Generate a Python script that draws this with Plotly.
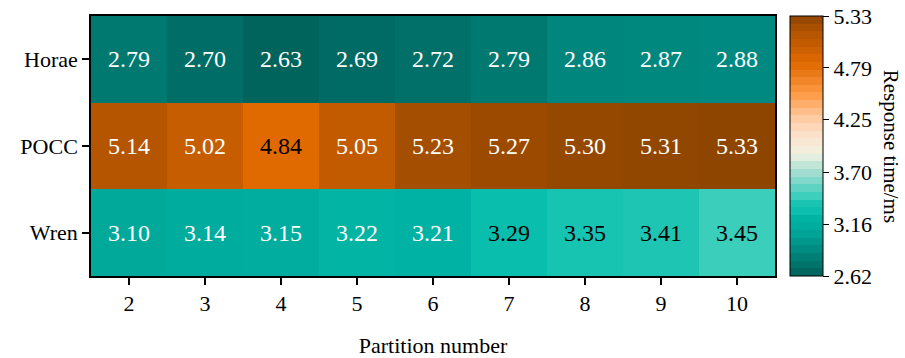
import plotly.graph_objects as go
import numpy as np

partitions = [2, 3, 4, 5, 6, 7, 8, 9, 10]
systems = ["Horae", "POCC", "Wren"]
horae = [2.79, 2.70, 2.63, 2.69, 2.72, 2.79, 2.86, 2.87, 2.88]
pocc = [5.14, 5.02, 4.84, 5.05, 5.23, 5.27, 5.30, 5.31, 5.33]
wren = [3.10, 3.14, 3.15, 3.22, 3.21, 3.29, 3.35, 3.41, 3.45]
cbar_ticks = [2.62, 3.16, 3.70, 4.25, 4.79, 5.33]
z = [horae, pocc, wren]
zmin, zmax = 2.62, 5.33

# colour anchors (position, hex)
anchors = [
    (0.00, "#00625B"), (0.03, "#006D66"), (0.063, "#007A71"), (0.09, "#00877E"),
    (0.177, "#00A99A"), (0.22, "#00B3A3"), (0.247, "#0ABEAE"), (0.269, "#17C3B1"),
    (0.292, "#1EC5B3"), (0.306, "#3ACEBB"), (0.40, "#A3DED1"), (0.47, "#F2F2E2"),
    (0.55, "#FCE0C8"), (0.62, "#FFC596"), (0.70, "#FF9A45"), (0.82, "#E06A00"),
    (0.89, "#C45C00"), (0.93, "#B65500"), (0.98, "#9A4A00"), (1.00, "#8E4500"),
]
def hex2rgb(h):
    h = h.lstrip('#'); return [int(h[i:i+2], 16) for i in (0, 2, 4)]
pos = np.array([a[0] for a in anchors])
cols = np.array([hex2rgb(a[1]) for a in anchors], dtype=float)
def col_at(t):
    return [float(np.interp(t, pos, cols[:, k])) for k in range(3)]
def rgb(c):
    return "rgb(%d,%d,%d)" % tuple(int(round(v)) for v in c)

smooth_scale = [[p, rgb(col_at(p))] for p in pos]
n = 34
stepped_scale = []
for i in range(n):
    s = rgb(col_at((i + 0.5) / n))
    stepped_scale.append([i / n, s]); stepped_scale.append([(i + 1) / n, s])

xcats = [str(p) for p in partitions]
fig = go.Figure()
# underlying trace only supplies the stepped colour bar
fig.add_trace(go.Heatmap(
    z=z, x=xcats, y=systems, zmin=zmin, zmax=zmax, colorscale=stepped_scale,
    colorbar=dict(
        x=1.022, xanchor="left", xpad=0, y=0.5, yanchor="middle",
        len=1.0, lenmode="fraction", ypad=0, thickness=33,
        outlinecolor="black", outlinewidth=1,
        tickvals=cbar_ticks, ticktext=["%.2f" % v for v in cbar_ticks],
        ticks="outside", ticklen=6, tickcolor="black",
        tickfont=dict(family="Liberation Serif", size=22, color="black"),
    ),
    hoverinfo="skip",
))
fig.add_trace(go.Heatmap(
    z=z, x=xcats, y=systems, zmin=zmin, zmax=zmax, colorscale=smooth_scale,
    showscale=False, hoverinfo="skip",
))

annotations = []
for r, row in enumerate(z):
    for c, v in enumerate(row):
        t = (v - zmin) / (zmax - zmin)
        dark_text = 0.23 < t < 0.85
        annotations.append(dict(
            x=c, y=r, xref="x", yref="y", text="%.2f" % v, showarrow=False,
            font=dict(family="Liberation Serif", size=24, color="black" if dark_text else "white"),
        ))
annotations.append(dict(
    xref="paper", yref="paper", x=1.17, y=0.5, text="Response time/ms", textangle=90,
    showarrow=False, font=dict(family="Liberation Serif", size=21, color="black"),
    xanchor="center", yanchor="middle",
))

fig.update_layout(
    width=905, height=358, margin=dict(l=91, r=130, t=16, b=82),
    paper_bgcolor="white", plot_bgcolor="white",
    annotations=annotations,
    font=dict(family="Liberation Serif", color="black"),
    xaxis=dict(
        type="category", automargin=False,
        title=dict(text="Partition number", font=dict(size=22), standoff=22),
        ticks="outside", ticklen=7, tickcolor="black", tickwidth=1.5,
        tickfont=dict(size=22), showline=True, linecolor="black", linewidth=1.5, mirror=True,
    ),
    yaxis=dict(
        type="category", autorange="reversed", automargin=False,
        ticks="outside", ticklen=7, tickcolor="black", tickwidth=1.5,
        tickfont=dict(size=22), showline=True, linecolor="black", linewidth=1.5, mirror=True,
    ),
)
fig.write_html("out.html")
